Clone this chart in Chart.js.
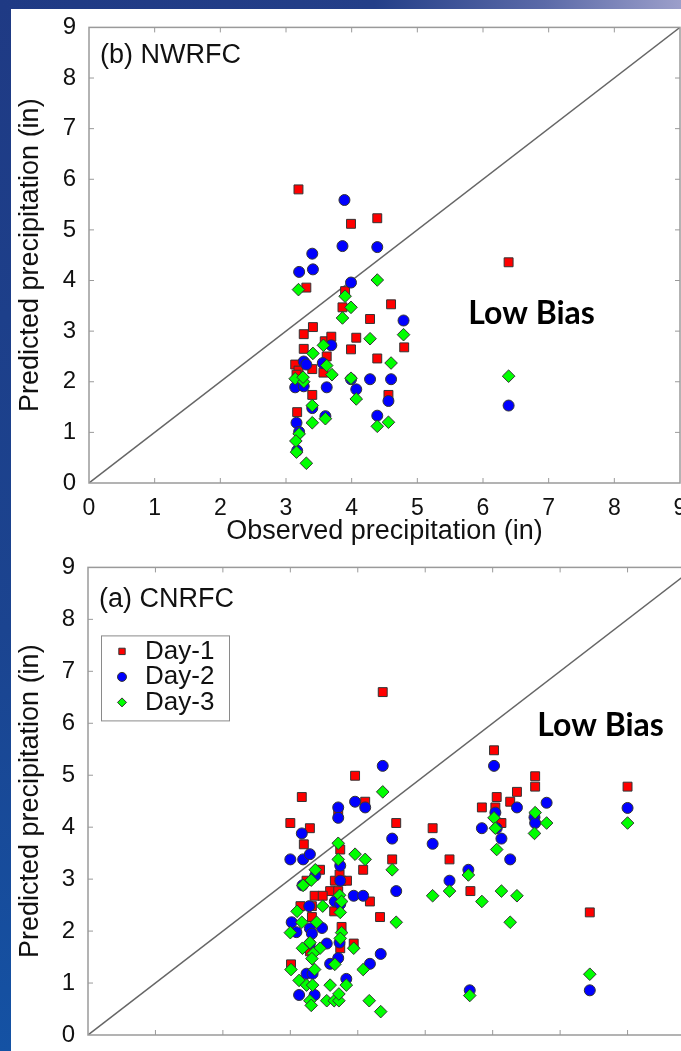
<!DOCTYPE html>
<html>
<head>
<meta charset="utf-8">
<title>Predicted vs observed precipitation</title>
<script src="https://cdn.jsdelivr.net/npm/chart.js@4.4.0/dist/chart.umd.min.js"></script>
<style>
  html, body { margin: 0; padding: 0; }
  body {
    width: 681px; height: 1051px; overflow: hidden; position: relative;
    background: linear-gradient(to bottom, #1f3a84 0%, #1b4490 60%, #1452a4 100%);
  }
  #topStrip {
    position: absolute; left: 0; top: 0; width: 681px; height: 9px;
    background: linear-gradient(to right, #1f3a84 0%, #243f88 55%, #5b6aa8 80%, #9c9fca 100%);
  }
  #panel { position: absolute; left: 11px; top: 9px; right: 0; bottom: 0; background: #fff; }
  .box { position: absolute; left: 0; }
  #boxB { top: 0; width: 720px; height: 548px; }
  #boxA { top: 540px; width: 760px; height: 570px; }
</style>
</head>
<body>
<div id="topStrip"></div>
<div id="panel"></div>
<div class="box" id="boxB"><canvas id="nwrfcChart"></canvas></div>
<div class="box" id="boxA"><canvas id="cnrfcChart"></canvas></div>

<script>
// 坐标轴范围与刻度
const axisMin = 0;
const axisMax = 9;
const axisStep = 1;
const seriesLabels = ['Day-1', 'Day-2', 'Day-3'];

// (b) NWRFC  [observed, predicted]
const nwrfcDay1 = [
  [3.19, 5.80], [3.31, 3.86], [3.41, 3.08], [3.27, 2.94], [3.27, 2.65], [3.14, 2.34],
  [3.19, 2.22], [3.40, 2.25], [3.59, 2.80], [3.69, 2.89], [3.62, 2.50], [3.57, 2.18],
  [3.40, 1.74], [3.17, 1.40], [3.16, 2.14], [3.99, 5.12], [4.39, 5.23], [3.90, 3.79],
  [3.86, 3.47], [4.60, 3.53], [4.28, 3.24], [4.07, 2.87], [4.80, 2.68], [3.99, 2.64],
  [4.39, 2.46], [4.56, 1.74], [6.39, 4.36]
];
const nwrfcDay2 = [
  [3.40, 4.53], [3.20, 4.17], [3.41, 4.22], [3.27, 2.40], [3.31, 2.34], [3.14, 1.89],
  [3.27, 1.91], [3.56, 2.37], [3.69, 2.72], [3.62, 1.89], [3.40, 1.48], [3.16, 1.19],
  [3.20, 1.01], [3.60, 1.32], [3.17, 0.64], [3.89, 5.59], [3.86, 4.68], [4.39, 4.66],
  [3.99, 3.96], [4.79, 3.21], [3.99, 2.05], [4.28, 2.05], [4.60, 2.05], [4.07, 1.85],
  [4.56, 1.62], [4.39, 1.33], [6.39, 1.53]
];
const nwrfcDay3 = [
  [3.19, 3.82], [3.41, 2.56], [3.57, 2.72], [3.62, 2.32], [3.70, 2.14], [3.14, 2.06],
  [3.27, 2.00], [3.26, 2.09], [3.40, 1.53], [3.40, 1.19], [3.60, 1.27], [3.20, 0.97],
  [3.15, 0.83], [3.16, 0.61], [3.31, 0.39], [4.39, 4.01], [3.90, 3.69], [3.99, 3.47],
  [3.86, 3.26], [4.79, 2.93], [4.28, 2.85], [4.60, 2.37], [3.99, 2.07], [4.07, 1.66],
  [4.39, 1.12], [4.56, 1.20], [6.39, 2.11]
];

// (a) CNRFC  [observed, predicted]
const cnrfcDay1 = [
  [4.37, 6.60], [3.96, 4.99], [3.17, 4.58], [4.11, 4.49], [3.71, 4.30], [3.00, 4.08],
  [3.29, 3.98], [3.20, 3.67], [4.57, 4.08], [3.74, 3.57], [4.51, 3.38], [4.08, 3.18],
  [3.44, 3.18], [3.66, 2.97], [3.76, 2.97], [3.84, 2.97], [3.73, 3.09], [3.24, 2.97],
  [3.59, 2.77], [3.36, 2.68], [3.48, 2.68], [3.71, 2.77], [4.18, 2.57], [3.15, 2.48],
  [3.32, 2.48], [3.65, 2.38], [3.32, 2.27], [4.33, 2.27], [3.76, 2.08], [3.74, 1.67],
  [3.94, 1.76], [3.01, 1.36], [3.29, 1.61], [6.02, 5.48], [6.63, 4.98], [6.63, 4.78],
  [6.36, 4.68], [6.06, 4.58], [6.26, 4.49], [5.84, 4.38], [6.04, 4.38], [6.13, 4.08],
  [5.11, 3.98], [5.36, 3.38], [5.67, 2.77], [7.44, 2.36], [8.00, 4.78]
];
const cnrfcDay2 = [
  [4.37, 5.18], [3.71, 4.38], [3.71, 4.18], [3.96, 4.49], [4.11, 4.38], [3.17, 3.88],
  [4.51, 3.78], [3.00, 3.38], [3.19, 3.38], [3.29, 3.48], [3.74, 3.26], [3.37, 3.07],
  [3.18, 2.88], [3.74, 2.97], [3.94, 2.68], [4.08, 2.68], [4.57, 2.77], [3.66, 2.57],
  [3.28, 2.48], [3.74, 2.52], [3.02, 2.17], [3.09, 1.98], [3.29, 2.05], [3.47, 2.06],
  [3.32, 1.95], [3.73, 1.78], [3.54, 1.76], [3.29, 1.76], [3.59, 1.37], [3.71, 1.48],
  [4.34, 1.56], [4.18, 1.37], [3.24, 1.18], [3.33, 1.18], [3.83, 1.08], [3.13, 0.77],
  [3.36, 0.77], [6.02, 5.18], [6.80, 4.47], [6.36, 4.38], [6.04, 4.28], [6.62, 4.19],
  [6.63, 4.08], [5.84, 3.98], [6.06, 3.98], [6.13, 3.78], [5.11, 3.68], [6.26, 3.38],
  [5.64, 3.18], [5.36, 2.97], [8.00, 4.37], [5.66, 0.86], [7.44, 0.86]
];
const cnrfcDay3 = [
  [4.37, 4.68], [3.71, 3.69], [3.96, 3.48], [4.11, 3.38], [3.71, 3.38], [4.51, 3.18],
  [3.37, 3.18], [3.31, 2.98], [3.19, 2.88], [3.73, 2.69], [3.76, 2.57], [3.48, 2.48],
  [3.74, 2.36], [3.10, 2.38], [3.17, 2.17], [3.39, 2.17], [4.57, 2.17], [3.00, 1.97],
  [3.76, 1.97], [3.74, 1.86], [3.29, 1.78], [3.44, 1.67], [3.18, 1.67], [3.94, 1.67],
  [3.34, 1.57], [3.32, 1.47], [3.66, 1.36], [3.01, 1.26], [3.36, 1.26], [4.08, 1.26],
  [3.13, 1.05], [3.24, 0.96], [3.33, 0.96], [3.59, 0.96], [3.83, 0.96], [3.29, 0.66],
  [3.31, 0.57], [3.54, 0.66], [3.65, 0.66], [3.72, 0.66], [3.72, 0.79], [4.17, 0.66],
  [4.34, 0.45], [6.02, 4.18], [6.04, 3.98], [6.63, 4.28], [6.80, 4.08], [6.62, 3.88],
  [6.06, 3.57], [5.64, 3.08], [5.36, 2.77], [5.11, 2.68], [5.84, 2.57], [6.13, 2.77],
  [6.36, 2.68], [6.26, 2.17], [7.44, 1.17], [5.66, 0.76], [8.00, 4.08]
];

const FONT = '"Liberation Sans", Arial, Helvetica, sans-serif';

// 散点序列
function series(label, arr, style, color, radius, order) {
  return {
    label: label,
    data: arr.map(p => ({ x: p[0], y: p[1] })),
    pointStyle: style,
    pointRadius: radius,
    pointHoverRadius: radius,
    backgroundColor: color,
    borderColor: '#333',
    borderWidth: 1,
    showLine: false,
    order: order
  };
}

// 1:1 参考线
function oneToOne() {
  return {
    label: '1:1',
    data: [{ x: axisMin, y: axisMin }, { x: axisMax, y: axisMax }],
    showLine: true,
    borderColor: '#666',
    borderWidth: 1.5,
    pointRadius: 0,
    order: 10
  };
}

// 边框、内向刻度、面板标题、图例、注释
const decorPlugin = {
  id: 'decor',
  afterDatasetsDraw(chart, args, opts) {
    const ctx = chart.ctx;
    const { left, right, top, bottom } = chart.chartArea;
    const xs = chart.scales.x, ys = chart.scales.y;
    ctx.save();
    ctx.strokeStyle = '#9a9a9a';
    ctx.lineWidth = 1.5;
    ctx.strokeRect(left, top, right - left, bottom - top);
    ctx.lineWidth = 1;
    ctx.beginPath();
    for (let v = axisMin + axisStep; v < axisMax; v += axisStep) {
      const px = xs.getPixelForValue(v);
      ctx.moveTo(px, bottom); ctx.lineTo(px, bottom - 5);
      ctx.moveTo(px, top); ctx.lineTo(px, top + 5);
      const py = ys.getPixelForValue(v);
      ctx.moveTo(left, py); ctx.lineTo(left + 5, py);
      ctx.moveTo(right, py); ctx.lineTo(right - 5, py);
    }
    ctx.stroke();

    // 面板标题
    ctx.fillStyle = '#111';
    ctx.font = '27px ' + FONT;
    ctx.textAlign = 'left';
    ctx.textBaseline = 'middle';
    ctx.fillText(opts.panel, left + 11, top + opts.panelDy);

    // Low Bias
    ctx.font = 'bold 32px Lato, "Open Sans", sans-serif';
    ctx.textAlign = 'center';
    ctx.fillStyle = '#000';
    ctx.fillText('Low Bias', xs.getPixelForValue(opts.noteAt[0]), ys.getPixelForValue(opts.noteAt[1]));

    // 图例
    if (opts.legend) {
      const bx = left + 13, by = top + 68, bw = 128, bh = 85;
      ctx.fillStyle = '#fff';
      ctx.fillRect(bx, by, bw, bh);
      ctx.strokeStyle = '#8a8a8a';
      ctx.lineWidth = 1;
      ctx.strokeRect(bx + 0.5, by + 0.5, bw, bh);
      const items = chart.data.datasets.filter(d => seriesLabels.includes(d.label));
      items.forEach((d, i) => {
        const cy = by + 16 + i * 25.5;
        ctx.fillStyle = d.backgroundColor;
        ctx.strokeStyle = '#333';
        ctx.lineWidth = 1;
        Chart.helpers.drawPoint(ctx, { pointStyle: d.pointStyle, radius: 4.5, rotation: 0, borderWidth: 1 }, bx + 21, cy);
        ctx.fillStyle = '#111';
        ctx.font = '26px ' + FONT;
        ctx.textAlign = 'left';
        ctx.fillText(d.label, bx + 44, cy);
      });
    }
    ctx.restore();
  }
};

function axis(which, size, tickPad) {
  return {
    type: 'linear',
    min: axisMin,
    max: axisMax,
    grid: { display: false, drawTicks: false },
    border: { display: false },
    ticks: {
      stepSize: axisStep,
      autoSkip: false,
      maxRotation: 0,
      color: '#111',
      padding: tickPad,
      font: { family: FONT, size: which === 'x' ? 23 : 24 }
    },
    title: {
      display: true,
      text: which === 'x' ? 'Observed precipitation (in)' : 'Predicted precipitation (in)',
      color: '#111',
      font: { family: FONT, size: 27 },
      padding: which === 'x' ? { top: 0, bottom: 0 } : { top: 14, bottom: 0 }
    },
    afterFit(scale) {
      if (which === 'x') scale.height = size; else scale.width = size;
    }
  };
}

function makeChart(id, d1, d2, d3, cfg) {
  return new Chart(document.getElementById(id), {
    type: 'scatter',
    data: {
      datasets: [
        series(seriesLabels[0], d1, 'rect', '#ff0000', 6.3, 3),
        series(seriesLabels[1], d2, 'circle', '#0000ff', 5.5, 2),
        series(seriesLabels[2], d3, 'rectRot', '#00ff00', 6.3, 1),
        oneToOne()
      ]
    },
    options: {
      responsive: true,
      maintainAspectRatio: false,
      animation: false,
      layout: { padding: cfg.padding },
      plugins: {
        legend: { display: false },
        tooltip: { enabled: false },
        decor: cfg.decor
      },
      scales: {
        x: axis('x', cfg.xHeight, cfg.xTickPad),
        y: axis('y', cfg.yWidth, 13)
      }
    },
    plugins: [decorPlugin]
  });
}

makeChart('nwrfcChart', nwrfcDay1, nwrfcDay2, nwrfcDay3, {
  padding: { left: 0, top: 19, right: 40, bottom: 0 },
  xHeight: 65,
  xTickPad: 12,
  yWidth: 89,
  decor: { panel: '(b) NWRFC', panelDy: 28, noteAt: [6.74, 3.35], legend: false }
});

// 下图的 x 轴刻度文字在画面之外
makeChart('cnrfcChart', cnrfcDay1, cnrfcDay2, cnrfcDay3, {
  padding: { left: 0, top: 19, right: 65, bottom: 0 },
  xHeight: 75,
  xTickPad: 20,
  yWidth: 88,
  decor: { panel: '(a) CNRFC', panelDy: 32, noteAt: [7.60, 5.95], legend: true }
});
</script>
</body>
</html>
